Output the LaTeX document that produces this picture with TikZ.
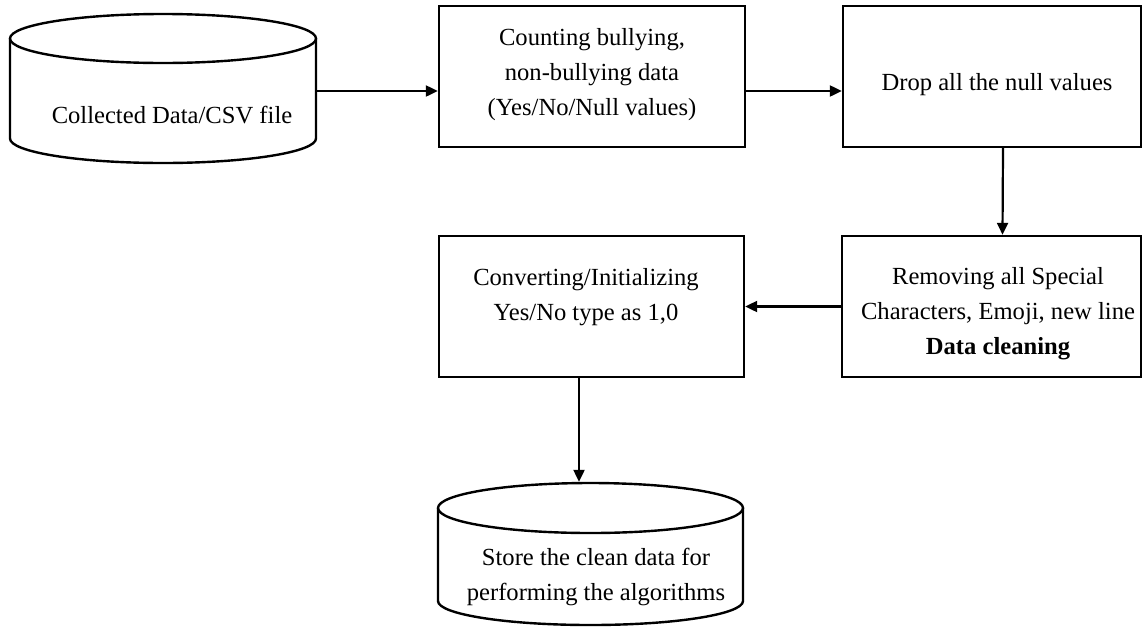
\documentclass[tikz,border=0pt]{standalone}
\usepackage{fontspec}
\setmainfont{Liberation Serif}
\usetikzlibrary{arrows.meta}
\begin{document}
\begin{tikzpicture}[x=0.5pt,y=0.5pt,
  line width=1.2pt,
  box/.style={draw, line width=1.2pt, rectangle, inner sep=0pt, minimum height=70.5pt},
  ghost/.style={draw=none, rectangle, inner sep=0pt},
  txt/.style={align=center, inner sep=0pt, font=\fontsize{12.3}{17.5}\selectfont},
  arr/.style={line width=1.1pt, -{Triangle[length=6pt,width=5.5pt]}}]
\useasboundingbox (0,0) rectangle (1144,-627);
% cylinder 1
\draw (163,-38.5) ellipse [x radius=153, y radius=24.5];
\draw (10,-38.5) -- (10,-138.5) arc[start angle=180, end angle=360, x radius=153, y radius=24.5] -- (316,-38.5);
\node[ghost, minimum width=153pt, minimum height=74.5pt] (c1) at (163,-88.5) {};
\node[txt] (t1) at (172,-115) {Collected Data/CSV file};
% cylinder 2
\draw (590.5,-508) ellipse [x radius=152.5, y radius=25];
\draw (438,-508) -- (438,-601) arc[start angle=180, end angle=360, x radius=152.5, y radius=24] -- (743,-508);
\node[ghost, minimum width=152.5pt, minimum height=71pt] (c2) at (590.5,-554) {};
\node[txt] (t6) at (596,-576.5) {Store the clean data for\\performing the algorithms};
% boxes
\node[box, minimum width=153pt] (b2) at (592,-76.5) {};
\node[txt] (t2) at (592,-75) {Counting bullying,\\non-bullying data\\(Yes/No/Null values)};
\node[box, minimum width=149pt] (b3) at (992,-76.5) {};
\node[txt] (t3) at (997,-85) {Drop all the null values};
\node[box, minimum width=149.5pt] (b4) at (991.5,-306.5) {};
\node[txt] (t4) at (998,-314) {Removing all Special\\Characters, Emoji, new line\\\textbf{Data cleaning}};
\node[box, minimum width=152.5pt] (b5) at (591.5,-306.5) {};
\node[txt] (t5) at (586,-297.5) {Converting/Initializing\\Yes/No type as 1,0};
% connectors
\draw[arr] ([yshift=-1.25pt]c1.east) -- ([yshift=-1.25pt]c1.east -| b2.west);
\draw[arr] ([yshift=-1.25pt]c1.east -| b2.east) -- ([yshift=-1.25pt]c1.east -| b3.west);
\draw[arr] ([xshift=5.5pt]b3.south) -- ([xshift=5.5pt]b4.north);
\draw[arr] (b4.west) -- (b5.east);
\draw[arr] ([xshift=-6.25pt]b5.south) -- ([xshift=-6.25pt]b5.south |- c2.north);
\end{tikzpicture}
\end{document}
